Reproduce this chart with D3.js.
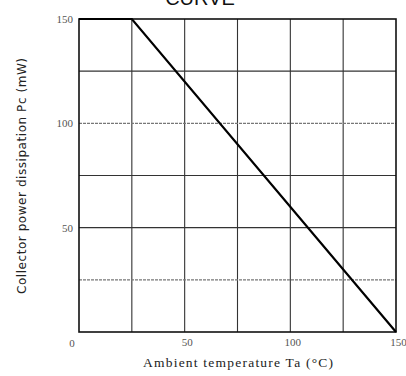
<!DOCTYPE html>
<html><head><meta charset="utf-8">
<script src="https://cdn.jsdelivr.net/npm/d3@7"></script>
<style>html,body{margin:0;padding:0;background:#fff;}svg{display:block;}</style>
</head><body>
<script>
const title = "CURVE";
const xLabel = "Ambient temperature Ta (°C)";
const yLabel = "Collector power dissipation Pc (mW)";
const temps = [0, 25, 150];
const power = [150, 150, 0];
const xTickLabels = [50, 100, 150];
const yTickLabels = [50, 100, 150];
const gridStep = [0, 25, 50, 75, 100, 125, 150];
const dottedGridY = [25, 100];

const W = 406, H = 376;
const m = {l: 79, r: 10, t: 19, b: 44};
const svg = d3.select("body").append("svg").attr("width", W).attr("height", H);
const x = d3.scaleLinear().domain([0, 150]).range([m.l, W - m.r]);
const y = d3.scaleLinear().domain([0, 150]).range([H - m.b, m.t]);

svg.append("text").attr("x", 200).attr("y", 5).attr("text-anchor", "middle")
  .attr("font-family", "Liberation Sans, Arial, sans-serif").attr("font-size", 20)
  .attr("fill", "#111").text(title);

// grid
const g = svg.append("g");
g.selectAll("line.v").data(gridStep.slice(1, -1)).join("line")
  .attr("x1", d => x(d)).attr("x2", d => x(d)).attr("y1", y(0)).attr("y2", y(150))
  .attr("stroke", "#333").attr("stroke-width", 1.1);
g.selectAll("line.h").data(gridStep.slice(1, -1)).join("line")
  .attr("y1", d => y(d)).attr("y2", d => y(d)).attr("x1", x(0)).attr("x2", x(150))
  .attr("stroke", d => dottedGridY.includes(d) ? "#777" : "#333")
  .attr("stroke-width", 1.1)
  .attr("stroke-dasharray", d => dottedGridY.includes(d) ? "3,1" : null);

// frame
svg.append("rect").attr("x", x(0)).attr("y", y(150)).attr("width", x(150) - x(0)).attr("height", y(0) - y(150))
  .attr("fill", "none").attr("stroke", "#111").attr("stroke-width", 1.6);

// curve
const line = d3.line().x((d, i) => x(temps[i])).y((d, i) => y(power[i]));
svg.append("path").attr("d", line(temps)).attr("fill", "none")
  .attr("stroke", "#000").attr("stroke-width", 2.2);

// tick labels (no axis lines, only text)
const xAxis = d3.axisBottom(x).tickValues(xTickLabels).tickSize(0).tickPadding(6);
const gx = svg.append("g").attr("transform", `translate(0,${y(0)})`).call(xAxis);
gx.select(".domain").remove();
gx.selectAll("text").attr("font-family", "Liberation Serif, Times New Roman, serif")
  .attr("font-size", 11).attr("fill", "#555").attr("dx", 2);

const yAxis = d3.axisLeft(y).tickValues(yTickLabels).tickSize(0).tickPadding(6);
const gy = svg.append("g").attr("transform", `translate(${x(0)},0)`).call(yAxis);
gy.select(".domain").remove();
gy.selectAll("text").attr("font-family", "Liberation Serif, Times New Roman, serif")
  .attr("font-size", 11).attr("fill", "#555");

svg.append("text").attr("x", x(0) - 7).attr("y", y(0) + 15).attr("text-anchor", "middle")
  .attr("font-family", "Liberation Serif, serif").attr("font-size", 11).attr("fill", "#555").text("0");

svg.append("text").attr("x", 238).attr("y", 367).attr("text-anchor", "middle")
  .attr("font-family", "Liberation Serif, Times New Roman, serif").attr("font-size", 13.5)
  .attr("fill", "#222").attr("textLength", 190).text(xLabel);

svg.append("text").attr("transform", `translate(26,176) rotate(-90)`).attr("text-anchor", "middle")
  .attr("font-family", "DejaVu Sans, sans-serif").attr("font-size", 12)
  .attr("fill", "#222").attr("textLength", 236).text(yLabel);
</script>
</body></html>
